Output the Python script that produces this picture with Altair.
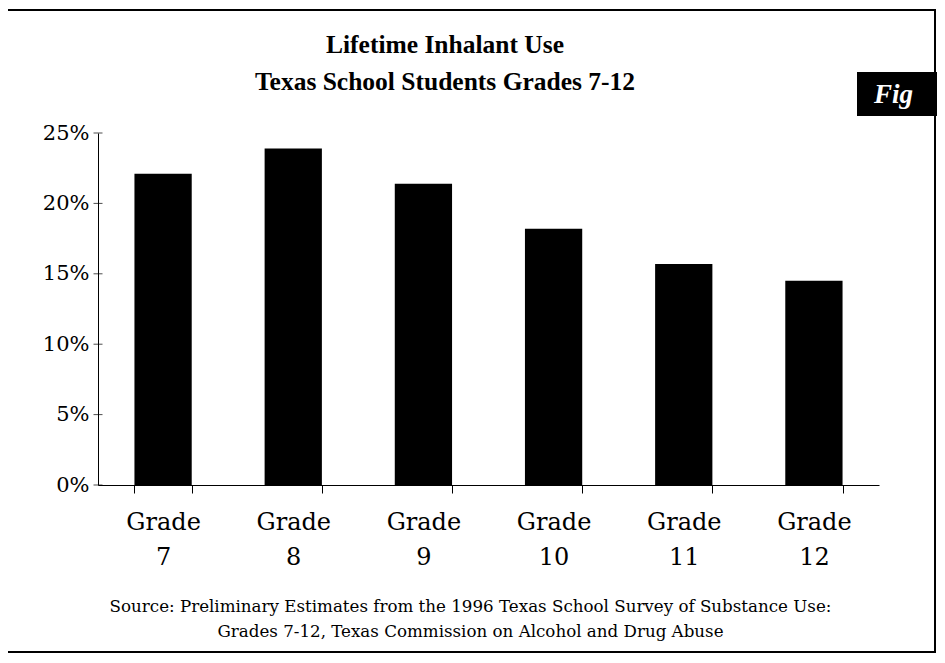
import altair as alt
import pandas as pd

grades = ["Grade 7", "Grade 8", "Grade 9", "Grade 10", "Grade 11", "Grade 12"]
values = [22.1, 23.9, 21.4, 18.2, 15.7, 14.5]
y_ticks = [0, 5, 10, 15, 20, 25]
title_lines = ["Lifetime Inhalant Use", "Texas School Students Grades 7-12"]
source_lines = [
    "Source: Preliminary Estimates from the 1996 Texas School Survey of Substance Use:",
    "Grades 7-12, Texas Commission on Alcohol and Drug Abuse",
]
fig_label = ["Fig"]

FONT = "DejaVu Serif"
TFONT = "Liberation Serif"

df = pd.DataFrame({"grade": grades, "value": values})
tick_df = pd.DataFrame({"v": y_ticks})

bars = alt.Chart(df).mark_bar(color="black").encode(
    x=alt.X(
        "grade:N",
        sort=grades,
        scale=alt.Scale(paddingInner=0.56, paddingOuter=0.28),
        axis=alt.Axis(
            title=source_lines,
            titleFont=FONT,
            titleFontSize=16.7,
            titleFontWeight="normal",
            titleColor="black",
            titleLineHeight=25,
            titleX=372,
            titleY=113,
            titleAnchor="middle",
            titleAlign="center",
            labelExpr="split(datum.label, ' ')",
            labelFont=FONT,
            labelFontSize=24,
            labelColor="black",
            labelLineHeight=35,
            labelPadding=17,
            labelAngle=0,
            tickBand="extent",
            tickSize=8,
            tickColor="black",
            domainColor="black",
            grid=False,
        ),
    ),
    y=alt.Y(
        "value:Q",
        scale=alt.Scale(domain=[0, 25], nice=False),
        axis=alt.Axis(
            title=None,
            values=y_ticks,
            labelExpr="datum.value + '%'",
            labelFont=FONT,
            labelFontSize=21,
            labelColor="black",
            labelPadding=9,
            ticks=False,
            domainColor="black",
            grid=False,
        ),
    ),
)

yticks = alt.Chart(tick_df).mark_tick(color="black", orient="horizontal", size=9, thickness=1).encode(
    y=alt.Y("v:Q"), x=alt.value(0)
)

deco = pd.DataFrame({"t": fig_label})
titles = pd.DataFrame({"line": title_lines, "order": [0, 1]})

border = alt.Chart(deco).mark_rect(fill=None, stroke="black", strokeWidth=2).encode(
    x=alt.value(-93), x2=alt.value(837), y=alt.value(-123), y2=alt.value(519)
)
title1 = alt.Chart(titles.iloc[[0]]).mark_text(
    font=TFONT, fontSize=25.5, fontWeight="bold", color="black", align="center", baseline="middle"
).encode(x=alt.value(347), y=alt.value(-88), text="line:N")
title2 = alt.Chart(titles.iloc[[1]]).mark_text(
    font=TFONT, fontSize=25.5, fontWeight="bold", color="black", align="center", baseline="middle"
).encode(x=alt.value(347), y=alt.value(-51), text="line:N")
figbox = alt.Chart(deco).mark_rect(color="black").encode(
    x=alt.value(759), x2=alt.value(850), y=alt.value(-61), y2=alt.value(-17)
)
figtext = alt.Chart(deco).mark_text(
    color="white", font=TFONT, fontSize=27, fontStyle="italic", fontWeight="bold",
    align="left", baseline="alphabetic"
).encode(x=alt.value(776), y=alt.value(-30), text="t:N")

chart = alt.layer(border, bars, yticks, title1, title2, figbox, figtext).properties(
    width=781,
    height=352,
    autosize=alt.AutoSizeParams(type="none"),
    padding={"left": 90, "top": 125, "right": 58, "bottom": 170},
).configure_view(stroke=None)

chart.save("out.html", embed_options={"renderer": "svg", "actions": False})
